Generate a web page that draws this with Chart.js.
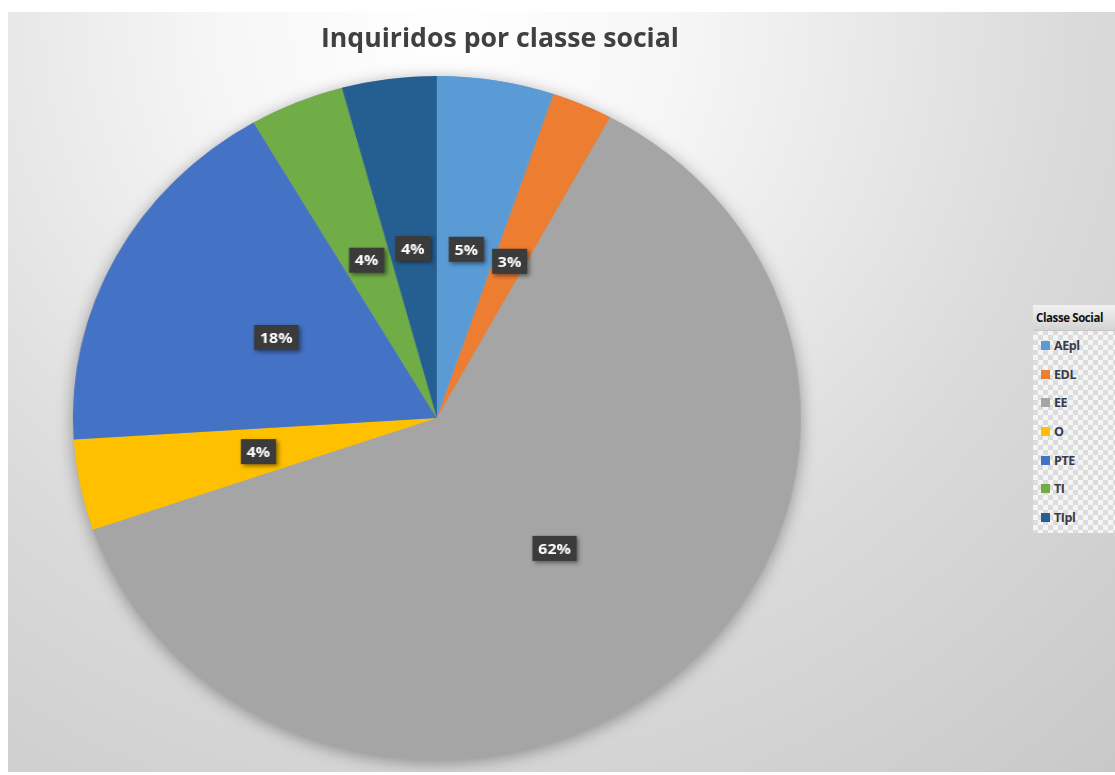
<!DOCTYPE html>
<html>
<head>
<meta charset="utf-8">
<script src="https://cdn.jsdelivr.net/npm/chart.js@4.4.0/dist/chart.umd.min.js"></script>
<style>
html, body { margin:0; padding:0; background:#fff; width:1115px; height:775px; overflow:hidden; position:relative; }
#bg { position:absolute; left:8px; top:12px; width:1107px; height:760px;
  background: radial-gradient(circle 1050px at 440px 10px, #ffffff 0%, #f6f6f6 22%, #dadada 60%, #c6c6c6 100%); }
#chart { position:absolute; left:8px; top:12px; width:1040px; height:760px; transform:scaleX(1.064); transform-origin:0 0; }
#title { position:absolute; top:20px; left:0; line-height:34px; white-space:nowrap; font-family:"Open Sans"; font-weight:bold; font-size:27px; color:#404040; transform-origin:0 50%; }
#legend { position:absolute; left:1033px; top:305px; width:110px; height:228px;
  background-color:#f1f1f1;
  background-image: repeating-conic-gradient(#dcdcdc 0 25%, #f5f5f5 0 50%);
  background-size: 10px 10px; }
#legend .head { height:25px; line-height:25px; padding-left:3px; font-family:"Open Sans"; font-weight:bold; font-size:11.5px; letter-spacing:-0.4px; color:#111;
  background: linear-gradient(#f2f2f2, #d4d4d4); border-bottom:1px solid #c8c8c8; }
#legend .item { height:28.7px; display:flex; align-items:center; padding-left:8px; font-family:"Open Sans"; font-weight:bold; font-size:12.5px; letter-spacing:-0.4px; color:#3a3a4a; }
#legend .box { width:9px; height:9px; margin-right:4px; }
</style>
</head>
<body>
<div id="bg"></div>
<canvas id="chart" width="1040" height="760"></canvas>
<div id="title">Inquiridos por classe social</div>
<div id="legend"><div class="head">Classe Social</div></div>
<script>
var titulo = 'Inquiridos por classe social';
var tituloLegenda = 'Classe Social';
var classes = ['AEpl', 'EDL', 'EE', 'O', 'PTE', 'TI', 'TIpl'];
var percentagens = [5.2, 2.7, 61.8, 4.3, 17.6, 4.2, 4.2];
var cores = ['#5B9BD5', '#ED7D31', '#A5A5A5', '#FFC000', '#4472C4', '#70AD47', '#255E91'];

// titulo: centrado em x=500, largura ~358px
var t = document.getElementById('title');
t.textContent = titulo;
var tw = t.getBoundingClientRect().width;
var sx = 358 / tw;
t.style.transform = 'scaleX(' + sx + ')';
t.style.left = (500 - 179) + 'px';

// legenda
var leg = document.getElementById('legend');
leg.querySelector('.head').textContent = tituloLegenda;
for (var i in classes) {
    var row = document.createElement('div');
    row.className = 'item';
    row.innerHTML = '<span class="box" style="background:' + cores[i] + '"></span>' + classes[i];
    leg.appendChild(row);
}

var sombraPlugin = {
    id: 'sombra',
    beforeDatasetsDraw: function(chart) {
        var arc = chart.getDatasetMeta(0).data[0];
        var ctx = chart.ctx;
        ctx.save();
        ctx.shadowColor = 'rgba(0,0,0,0.35)';
        ctx.shadowBlur = 16;
        ctx.shadowOffsetY = 3;
        ctx.fillStyle = '#a5a5a5';
        ctx.beginPath();
        ctx.arc(arc.x, arc.y, arc.outerRadius, 0, Math.PI * 2);
        ctx.fill();
        ctx.restore();
    },
    afterDatasetsDraw: function(chart) {
        var ctx = chart.ctx;
        var total = percentagens.reduce(function(a, b) { return a + b; }, 0);
        chart.getDatasetMeta(0).data.forEach(function(el, i) {
            var p = el.getProps(['x', 'y', 'startAngle', 'endAngle', 'outerRadius'], true);
            var mid = (p.startAngle + p.endAngle) / 2;
            var r = p.outerRadius * 0.5;
            var cx = p.x + Math.cos(mid) * r;
            var cy = p.y + Math.sin(mid) * r;
            var txt = Math.round(percentagens[i] / total * 100) + '%';
            ctx.save();
            ctx.font = 'bold 15px "Open Sans"';
            var w = ctx.measureText(txt).width + 11;
            var h = 25;
            ctx.shadowColor = 'rgba(0,0,0,0.45)';
            ctx.shadowBlur = 4;
            ctx.shadowOffsetX = 2;
            ctx.shadowOffsetY = 2;
            ctx.fillStyle = '#3b3b3b';
            ctx.fillRect(cx - w / 2, cy - h / 2, w, h);
            ctx.shadowColor = 'transparent';
            ctx.fillStyle = '#ffffff';
            ctx.textAlign = 'center';
            ctx.textBaseline = 'middle';
            ctx.fillText(txt, cx, cy + 1);
            ctx.restore();
        });
    }
};

var ctx = document.getElementById('chart');
var pieChart = new Chart(ctx, {
    type: 'pie',
    data: {
        labels: classes,
        datasets: [{
            data: percentagens,
            backgroundColor: cores,
            borderWidth: 0,
            hoverOffset: 0,
            offset: 0
        }]
    },
    options: {
        responsive: false,
        animation: false,
        layout: { padding: { top: 64, bottom: 12, left: 0, right: 234 } },
        plugins: {
            legend: { display: false },
            tooltip: { enabled: false },
            title: { display: false }
        }
    },
    plugins: [sombraPlugin]
});
</script>
</body>
</html>
